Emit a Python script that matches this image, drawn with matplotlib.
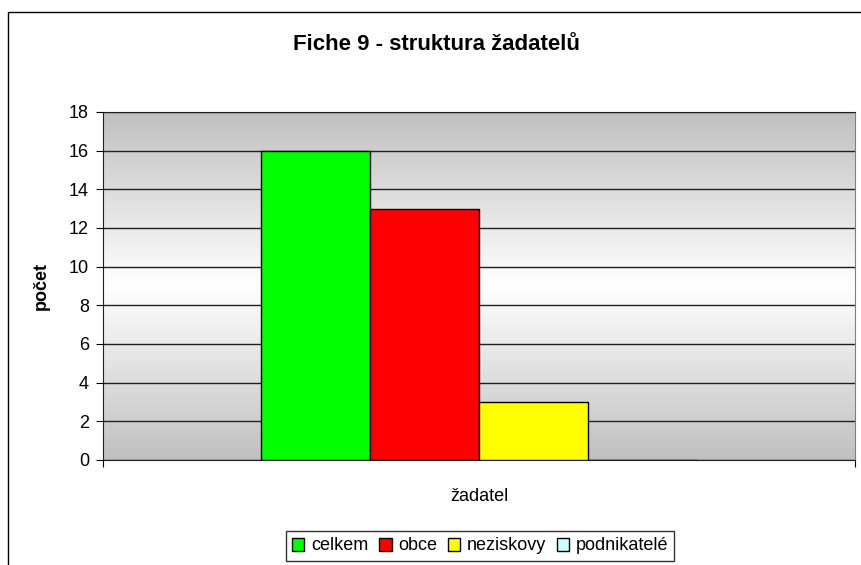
import numpy as np
import matplotlib.pyplot as plt
from matplotlib.patches import Rectangle, Patch
from matplotlib.colors import LinearSegmentedColormap

plt.rcParams['font.family'] = ['Liberation Sans', 'DejaVu Sans']

# data
category = "žadatel"
series = ["celkem", "obce", "neziskovy", "podnikatelé"]
values = [16, 13, 3, 0]
colors = ["#00ff00", "#ff0000", "#ffff00", "#ccffff"]

fig = plt.figure(figsize=(8.61, 5.65), dpi=100)

# outer chart border (cut off at right and bottom like the original)
fig.patches.append(Rectangle((8 / 861, -0.1), 1.0, 1 - 12 / 565 + 0.1,
                             transform=fig.transFigure, fill=False,
                             edgecolor="black", linewidth=1.0))

ax = fig.add_axes([103 / 861, 1 - 460 / 565, 752 / 861, 348 / 565])

# gray-white-gray background gradient
cmap = LinearSegmentedColormap.from_list("bg", ["#c0c0c0", "#ffffff", "#c0c0c0"])
grad = np.linspace(0, 1, 256).reshape(-1, 1)
ax.imshow(grad, extent=[-0.5, 0.5, 0, 18], aspect="auto", cmap=cmap,
          zorder=0, interpolation="bicubic")

w = 0.58 / 4
for i, (name, v, c) in enumerate(zip(series, values, colors)):
    x = (i - 1.5) * w
    ax.bar(x, v, width=w, color=c, edgecolor="black", linewidth=1.0, zorder=3)

ax.set_xlim(-0.5, 0.5)
ax.set_ylim(0, 18)
ax.set_yticks(range(0, 19, 2))
ax.grid(axis="y", color="#202020", linewidth=1.0, zorder=1)
ax.tick_params(axis="y", direction="out", length=5, labelsize=13, pad=5)
ax.set_xticks([-0.5, 0.5], ["", ""])
ax.tick_params(axis="x", which="major", direction="out", length=5)
ax.set_xticks([0], [category], minor=True)
ax.tick_params(axis="x", which="minor", length=0, labelsize=13, pad=20)

ax.spines["left"].set_color("#202020")
ax.spines["bottom"].set_color("#202020")
ax.spines["top"].set_color("#202020")
ax.spines["right"].set_color("#808080")

ax.set_ylabel("počet", fontsize=13, fontweight="bold", labelpad=14)
fig.text(436 / 861, 1 - 45 / 565, "Fiche 9 - struktura žadatelů",
         ha="center", va="center", fontsize=16, fontweight="bold")

handles = [Patch(facecolor=c, edgecolor="black", label=s) for s, c in zip(series, colors)]
leg = fig.legend(handles=handles, loc="center", bbox_to_anchor=(480 / 861, 1 - 546 / 565),
                 ncol=4, fontsize=13, frameon=True, fancybox=False,
                 handlelength=0.7, handleheight=0.7, handletextpad=0.35,
                 columnspacing=0.6, borderpad=0.35, borderaxespad=0)
leg.get_frame().set_edgecolor("black")
leg.get_frame().set_linewidth(1.0)

fig.savefig("out.png", dpi=100)
